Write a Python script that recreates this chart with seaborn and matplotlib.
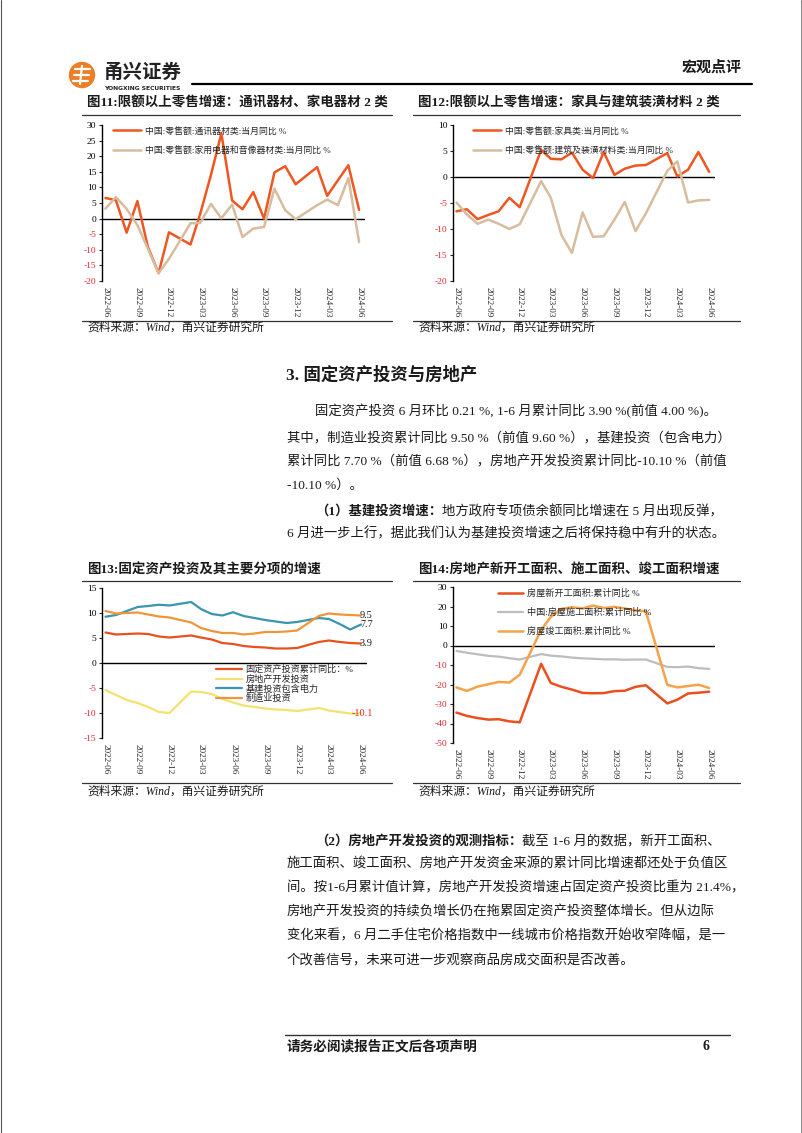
"""
Page 6 of the macro report: retail sales / fixed asset investment charts with text.
"""

import numpy as np
import pandas as pd
import matplotlib
matplotlib.use("Agg")
import matplotlib.pyplot as plt
import seaborn as sns
from matplotlib.patches import Circle
from matplotlib.font_manager import FontProperties

# ---- data (monthly, Jan merged into Feb) ----
months = ["2022-06", "2022-07", "2022-08", "2022-09", "2022-10", "2022-11", "2022-12",
          "2023-02", "2023-03", "2023-04", "2023-05", "2023-06", "2023-07", "2023-08",
          "2023-09", "2023-10", "2023-11", "2023-12",
          "2024-02", "2024-03", "2024-04", "2024-05", "2024-06"]
tick_months = ["2022-06", "2022-09", "2022-12", "2023-03", "2023-06",
               "2023-09", "2023-12", "2024-03", "2024-06"]

# fig 11
comm = [6.6, 5.9, -4.5, 5.6, -9.0, -17.5, -4.4, -8.3, 1.5, 14.0, 27.3, 5.8, 3.0, 8.5,
        0.0, 14.8, 16.8, 11.0, 16.5, 7.3, 12.3, 17.1, 2.8]
appl = [3.2, 6.9, 3.1, -2.1, -9.6, -17.5, -12.9, -1.5, -1.4, 4.7, 0.1, 4.5, -5.9, -3.2,
        -2.7, 9.6, 2.7, -0.2, 4.3, 6.1, 4.3, 13.0, -7.5]
# fig 12
furn = [-6.6, -6.2, -8.1, -7.3, -6.6, -4.0, -5.8, 5.2, 3.5, 3.4, 4.7, 1.4, -0.2, 4.8,
        0.4, 1.6, 2.2, 2.3, 4.6, 0.1, 1.4, 4.8, 1.0]
build = [-4.9, -7.2, -9.0, -8.2, -9.0, -10.0, -9.1, -0.8, -4.0, -11.2, -14.6, -6.8, -11.5,
         -11.4, -8.2, -4.8, -10.4, -7.0, 1.2, 3.0, -4.9, -4.5, -4.4]
# fig 13
fai = [6.1, 5.7, 5.8, 5.9, 5.8, 5.3, 5.1, 5.5, 5.1, 4.7, 4.0, 3.8, 3.4, 3.2, 3.1, 2.9,
       2.9, 3.0, 4.2, 4.5, 4.2, 4.0, 3.9]
realty = [-5.4, -6.4, -7.4, -8.0, -8.8, -9.8, -10.0, -5.7, -5.8, -6.2, -7.2, -7.9, -8.5,
          -8.8, -9.1, -9.3, -9.4, -9.6, -9.0, -9.5, -9.8, -10.1, -10.1]
infra = [9.25, 9.6, 10.4, 11.2, 11.4, 11.65, 11.5, 12.2, 10.8, 9.8, 9.5, 10.15, 9.4, 9.0,
         8.6, 8.3, 8.0, 8.2, 9.0, 8.8, 7.8, 6.7, 7.7]
manuf = [10.4, 9.9, 10.0, 10.1, 9.7, 9.3, 9.1, 8.1, 7.0, 6.4, 6.0, 6.0, 5.7, 5.9, 6.2,
         6.2, 6.3, 6.5, 9.4, 9.9, 9.7, 9.6, 9.5]
# fig 14
new_start = [-34.4, -36.1, -37.2, -38.0, -37.8, -38.9, -39.4, -9.4, -19.2, -21.2, -22.6,
             -24.3, -24.5, -24.4, -23.4, -23.2, -21.2, -20.4, -29.7, -27.8, -24.6, -24.2, -23.7]
under_constr = [-2.8, -3.7, -4.5, -5.3, -5.7, -6.5, -7.2, -4.4, -5.2, -5.6, -6.2, -6.6,
                -6.8, -7.1, -7.1, -7.3, -7.2, -7.2, -11.0, -11.1, -10.8, -11.6, -12.0]
completed = [-21.5, -23.3, -21.1, -19.9, -18.7, -19.0, -15.0, 8.0, 14.7, 18.8, 19.6, 19.0,
             20.5, 19.2, 19.8, 19.0, 17.9, 17.5, -20.2, -21.5, -20.8, -20.1, -21.8]

W, H = 802, 1133
SERIF_CJK = ["Liberation Serif", "Noto Sans CJK SC", "DejaVu Sans"]
RED = "#D9262C"
TXT = "#1a1a1a"

sns.set_theme(style="white")
plt.rcParams["font.family"] = SERIF_CJK
plt.rcParams["axes.unicode_minus"] = False

dates = pd.to_datetime(months)
tick_dates = pd.to_datetime(tick_months)


def rect(l, t, r, b):
    return [l / W, 1 - b / H, (r - l) / W, (b - t) / H]


def style_chart(ax, ymin, ymax, step):
    ax.set_xlim(dates[0] - pd.Timedelta(days=10), dates[-1] + pd.Timedelta(days=17))
    ax.set_ylim(ymin, ymax)
    yt = np.arange(ymin, ymax + 1, step)
    ax.set_yticks(yt)
    ax.set_yticklabels([f"{v:g}" for v in yt], fontsize=6.8, family="Liberation Serif")
    for lbl, v in zip(ax.get_yticklabels(), yt):
        lbl.set_color(RED if v < 0 else "black")
    ax.set_xticks(tick_dates)
    ax.set_xticklabels(tick_months, rotation=-90, fontsize=6.6, family="Liberation Serif",
                       ha="center", va="top")
    ax.axhline(0, color="black", lw=1.0, zorder=1)
    for s in ["top", "right", "bottom"]:
        ax.spines[s].set_visible(False)
    ax.spines["left"].set_color("black")
    ax.spines["left"].set_linewidth(1.0)
    ax.tick_params(axis="y", length=2, width=0.8, direction="out", pad=2, left=True)
    ax.tick_params(axis="x", length=0, pad=4)
    ax.set_xlabel("")
    ax.set_ylabel("")
    ax.grid(False)
    ax.patch.set_alpha(0)


def draw(ax, values, color, label, lw=1.6):
    sns.lineplot(x=dates, y=values, ax=ax, color=color, lw=lw, label=label)


def legend(ax, anchor, size, handlelength, spacing):
    ax.legend(loc="upper left", bbox_to_anchor=anchor, frameon=False,
              prop=FontProperties(family=SERIF_CJK, size=size), handlelength=handlelength,
              handletextpad=0.4, labelspacing=spacing, borderpad=0, borderaxespad=0)


fig = plt.figure(figsize=(W / 100, H / 100), dpi=100)

# ---- page layer in pixel coordinates ----
pg = fig.add_axes([0, 0, 1, 1])
pg.set_xlim(0, W)
pg.set_ylim(H, 0)
pg.axis("off")

pg.plot([0.5, 0.5], [0, H], color="#555555", lw=0.8)
pg.plot([800.5, 800.5], [0, H], color="#777777", lw=0.6)

# header
pg.add_patch(Circle((82, 75), 12.5, color="#EE7E26", zorder=2))
for (x0, y0, x1, y1) in [(75, 69, 90, 69), (74, 75, 89, 75), (73, 81, 88, 81), (82, 66, 80, 84)]:
    pg.plot([x0, x1], [y0, y1], color="white", lw=1.6, zorder=3, solid_capstyle="round")
pg.text(104, 72, "甬兴证券", fontsize=14, weight="bold", va="center", ha="left",
        family=["Noto Sans CJK SC"], color="#222222")
pg.text(104, 88, "YONGXING SECURITIES", fontsize=4.3, weight="bold", va="center",
        ha="left", family=["DejaVu Sans"], color="#222222")
pg.plot([192, 752], [83.5, 83.5], color="black", lw=1.6)
pg.text(742, 67, "宏观点评", fontsize=10.8, weight="bold", va="center", ha="right", color=TXT)

# chart titles, rules and sources
for x0, x1, yt, yl, ys, yr, title in [
    (87, 392, 103, 114.5, 328, 321, "图11:限额以上零售增速：通讯器材、家电器材 2 类"),
    (418, 740, 103, 114.5, 328, 321, "图12:限额以上零售增速：家具与建筑装潢材料 2 类"),
    (87, 392, 570, 580.5, 792, 783, "图13:固定资产投资及其主要分项的增速"),
    (418, 740, 570, 580.5, 792, 783, "图14:房地产新开工面积、施工面积、竣工面积增速"),
]:
    pg.text(x0, yt, title, fontsize=9.7, weight="bold", va="center", ha="left", color=TXT)
    pg.plot([x0 - 5, x1], [yl, yl], color="#333333", lw=0.9)
    pg.plot([x0 - 5, x1], [yr, yr], color="#333333", lw=0.9)
    pg.text(x0, ys, "资料来源：Wind，甬兴证券研究所", fontsize=8.5, style="italic",
            va="center", ha="left", color=TXT)

# body text
BODY = 9.6
pg.text(286, 375, "3. 固定资产投资与房地产", fontsize=12.5, weight="bold", va="center",
        ha="left", color=TXT)

para1 = [
    (315, 411.5, None, "固定资产投资 6 月环比 0.21 %, 1-6 月累计同比 3.90 %(前值 4.00 %)。"),
    (287, 438, None, "其中，制造业投资累计同比 9.50 %（前值 9.60 %），基建投资（包含电力）"),
    (287, 461.5, None, "累计同比 7.70 %（前值 6.68 %），房地产开发投资累计同比-10.10 %（前值"),
    (287, 485, None, "-10.10 %）。"),
    (315, 511.5, "（1）基建投资增速：", "地方政府专项债余额同比增速在 5 月出现反弹，"),
    (287, 533.5, None, "6 月进一步上行，据此我们认为基建投资增速之后将保持稳中有升的状态。"),
]
para2 = [
    (315, 841, "（2）房地产开发投资的观测指标：", "截至 1-6 月的数据，新开工面积、"),
    (287, 864.5, None, "施工面积、竣工面积、房地产开发资金来源的累计同比增速都还处于负值区"),
    (287, 888, None, "间。按1-6月累计值计算，房地产开发投资增速占固定资产投资比重为 21.4%，"),
    (287, 912, None, "房地产开发投资的持续负增长仍在拖累固定资产投资整体增长。但从边际"),
    (287, 936, None, "变化来看，6 月二手住宅价格指数中一线城市价格指数开始收窄降幅，是一"),
    (287, 960, None, "个改善信号，未来可进一步观察商品房成交面积是否改善。"),
]
for x, y, bold, rest in para1 + para2:
    if bold:
        t = pg.text(x, y, bold, fontsize=BODY, weight="bold", va="center", ha="left", color=TXT)
        pg.annotate(rest, xy=(1, 0.5), xycoords=t, va="center", ha="left",
                    fontsize=BODY, color=TXT)
    else:
        pg.text(x, y, rest, fontsize=BODY, va="center", ha="left", color=TXT)

# footer
pg.plot([285, 730], [1035, 1035], color="#333333", lw=1.0)
pg.text(287, 1047, "请务必阅读报告正文后各项声明", fontsize=9.8, weight="bold",
        va="center", ha="left", color=TXT)
pg.text(706, 1047, "6", fontsize=10, weight="bold", va="center", ha="center", color=TXT)

# ---- fig 11 ----
ax11 = fig.add_axes(rect(102, 125, 365, 281))
draw(ax11, comm, "#EE5722", "中国:零售额:通讯器材类:当月同比 %", lw=1.8)
draw(ax11, appl, "#D8BC9E", "中国:零售额:家用电器和音像器材类:当月同比 %", lw=1.8)
style_chart(ax11, -20, 30, 5)
legend(ax11, (0.04, 0.99), 6.4, 3.2, 1.2)

# ---- fig 12 ----
ax12 = fig.add_axes(rect(453, 125, 715, 281))
draw(ax12, furn, "#EE5722", "中国:零售额:家具类:当月同比 %", lw=1.8)
draw(ax12, build, "#D8BC9E", "中国:零售额:建筑及装潢材料类:当月同比 %", lw=1.8)
style_chart(ax12, -20, 10, 5)
legend(ax12, (0.075, 0.99), 6.4, 3.2, 1.2)

# ---- fig 13 ----
ax13 = fig.add_axes(rect(102, 588, 367, 738))
series13 = [
    (fai, "#E8501E", "固定资产投资累计同比：%"),
    (realty, "#F4E170", "房地产开发投资"),
    (infra, "#3A95AE", "基建投资包含电力"),
    (manuf, "#F0953A", "制造业投资"),
]
for vals, col, lab in series13:
    draw(ax13, vals, col, lab, lw=1.6)
style_chart(ax13, -15, 15, 5)
for vals, col, lab in series13:
    ax13.annotate(f"{vals[-1]:.1f}", xy=(dates[-1], vals[-1]), xytext=(8.5, 0),
                  textcoords="offset points", ha="right", va="center", fontsize=7.4,
                  family="Liberation Serif", color=RED if vals[-1] < 0 else TXT)
legend(ax13, (0.43, 0.487), 6.6, 2.8, 0.05)

# ---- fig 14 ----
ax14 = fig.add_axes(rect(453, 587, 715, 743))
draw(ax14, new_start, "#E8501E", "房屋新开工面积:累计同比 %", lw=1.8)
draw(ax14, under_constr, "#BDBDBD", "中国:房屋施工面积:累计同比 %", lw=1.6)
draw(ax14, completed, "#F5A24A", "房屋竣工面积:累计同比 %", lw=1.8)
style_chart(ax14, -50, 30, 10)
legend(ax14, (0.17, 0.99), 6.6, 2.8, 1.05)

fig.savefig("out.png", dpi=100)
